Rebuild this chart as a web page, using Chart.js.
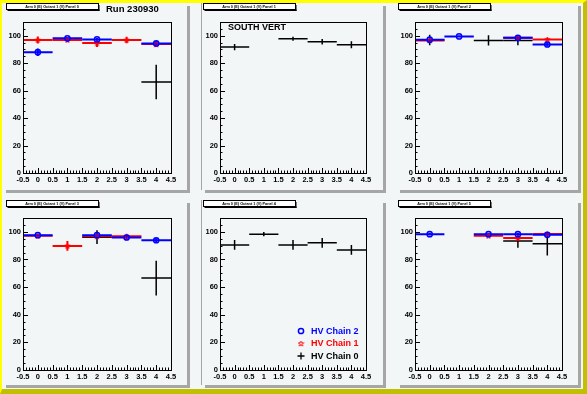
<!DOCTYPE html>
<html>
<head>
<meta charset="utf-8">
<script src="https://cdn.jsdelivr.net/npm/chart.js@4.4.1/dist/chart.umd.min.js"></script>
<style>
  body { margin: 0; }
  #frame {
    position: absolute; left: 0; top: 0; width: 587px; height: 394px; box-sizing: border-box;
    background: #f2f6f6;
    border-left: 2px solid #ffff00; border-top: 3px solid #ffff00;
    border-right: 4px solid #c0c000; border-bottom: 5px solid #c0c000;
  }
  .pad { position: absolute; background: #f2f6f6; box-shadow: 3px 3px 0 #a6a6a6; }
  .pad.mid { box-shadow: 3px 3px 0 #a6a6a6, -1px 0 0 #a6a6a6; }
  .pad canvas { display: block; }
</style>
</head>
<body>
<div id="frame"></div>
<div id="pads"></div>
<script>
// values, one row per panel, one entry per bin
const bins = [0, 1, 2, 3, 4];
const xTicks = [-0.5, 0, 0.5, 1, 1.5, 2, 2.5, 3, 3.5, 4, 4.5];
const yTicks = [0, 20, 40, 60, 80, 100];
const panelTitles = [
  "Arm 0 (E) Octant 1 (V) Panel 0", "Arm 0 (E) Octant 1 (V) Panel 1", "Arm 0 (E) Octant 1 (V) Panel 2",
  "Arm 0 (E) Octant 1 (V) Panel 3", "Arm 0 (E) Octant 1 (V) Panel 4", "Arm 0 (E) Octant 1 (V) Panel 5"
];
const seriesNames = ["HV Chain 2", "HV Chain 1", "HV Chain 0"];

const chain2Values = [
  [88.0, 98.1, 97.3, null, 94.4],
  [null, null, null, null, null],
  [97.1, 99.5, null, 98.5, 93.6],
  [97.6, null, 97.6, 95.9, 93.9],
  [null, null, null, null, null],
  [98.3, null, 98.3, 98.3, 97.8]
];
const chain2Errors = [
  [2.7, 1.0, 1.0, null, 1.5],
  [null, null, null, null, null],
  [1.0, 0.8, null, 1.0, 1.5],
  [1.0, null, 1.0, 1.5, 1.5],
  [null, null, null, null, null],
  [1.0, null, 1.0, 1.0, 1.0]
];
const chain1Values = [
  [96.9, 96.9, 94.7, 96.9, 93.9],
  [null, null, null, null, null],
  [96.6, null, null, 98.5, 97.3],
  [97.1, 89.8, 96.8, 96.8, null],
  [null, null, null, null, null],
  [null, null, 97.1, 95.6, 98.5]
];
const chain1Errors = [
  [2.5, 1.5, 3.0, 2.3, 2.0],
  [null, null, null, null, null],
  [1.0, null, null, 1.0, 1.0],
  [1.0, 3.5, 1.0, 1.5, null],
  [null, null, null, null, null],
  [null, null, 1.0, 2.0, 1.0]
];
const chain0Values = [
  [null, null, null, null, 66.3],
  [91.7, null, 97.8, 95.6, 93.4],
  [96.9, null, 96.6, 96.6, null],
  [null, null, 96.1, null, 66.5],
  [90.5, 98.3, 90.5, 92.0, 86.9],
  [null, null, null, 93.4, 91.3]
];
const chain0Errors = [
  [null, null, null, null, 12.6],
  [2.3, null, 1.5, 2.0, 2.5],
  [3.8, null, 3.8, 3.6, null],
  [null, null, 5.0, null, 12.6],
  [3.5, 1.5, 3.5, 3.5, 3.5],
  [null, null, null, 4.9, 8.5]
];

// pad geometry (page pixels)
const padLeft = [3, 202, 397];
const padWidth = [184, 181, 181];
const padTop = [3, 200];
const padHeight = [187, 185];
const frameX = [[23, 171], [220, 366], [415, 562]];
const frameY = [[22, 173], [218, 370]];
const titleBoxX = [6, 203, 398];

const FONT = "'Liberation Sans', Arial, sans-serif";

function makeStar(color) {
  const c = document.createElement('canvas');
  c.width = 7; c.height = 7;
  const g = c.getContext('2d');
  g.strokeStyle = color;
  g.lineWidth = 1;
  g.beginPath();
  for (let i = 0; i < 10; i++) {
    const r = i % 2 ? 1.2 : 2.8;
    const a = -Math.PI / 2 + i * Math.PI / 5;
    const px = 3.5 + r * Math.cos(a), py = 3.8 + r * Math.sin(a);
    if (i) g.lineTo(px, py); else g.moveTo(px, py);
  }
  g.closePath();
  g.stroke();
  return c;
}
const redStar = makeStar('#ff0000');

function points(values, errors) {
  const out = [];
  bins.forEach((b, i) => {
    if (values[i] !== null) out.push({ x: b, y: values[i], err: errors[i] });
  });
  return out;
}

function drawMarker(ctx, kind, x, y) {
  ctx.save();
  if (kind === 0) {
    ctx.strokeStyle = '#0000ff'; ctx.lineWidth = 1.5;
    ctx.beginPath(); ctx.arc(x, y, 2.6, 0, Math.PI * 2); ctx.stroke();
  } else if (kind === 1) {
    ctx.drawImage(redStar, x - 3.5, y - 3.5);
  } else {
    ctx.strokeStyle = '#000'; ctx.lineWidth = 1.3;
    ctx.beginPath();
    ctx.moveTo(x - 3.5, y); ctx.lineTo(x + 3.5, y);
    ctx.moveTo(x, y - 3.5); ctx.lineTo(x, y + 3.5);
    ctx.stroke();
  }
  ctx.restore();
}

const rootPad = {
  id: 'rootPad',
  beforeDatasetsDraw(chart) {
    const { ctx, scales: { x, y } } = chart;
    const sets = chart.data.datasets.slice().reverse();
    sets.forEach(ds => {
      ctx.save();
      ctx.strokeStyle = ds.borderColor;
      ctx.lineWidth = ds.barWidth;
      ds.data.forEach(p => {
        const px = x.getPixelForValue(p.x), py = y.getPixelForValue(p.y);
        ctx.beginPath();
        ctx.moveTo(x.getPixelForValue(p.x - 0.5), py);
        ctx.lineTo(x.getPixelForValue(p.x + 0.5), py);
        ctx.moveTo(px, y.getPixelForValue(p.y - p.err));
        ctx.lineTo(px, y.getPixelForValue(p.y + p.err));
        ctx.stroke();
      });
      ctx.restore();
    });
  },
  afterDraw(chart, args, opts) {
    const { ctx, chartArea: a, scales: { x, y } } = chart;
    ctx.save();
    ctx.strokeStyle = '#000';
    ctx.lineWidth = 1;
    ctx.strokeRect(Math.round(a.left) + 0.5, Math.round(a.top) + 0.5,
      Math.round(a.right - a.left), Math.round(a.bottom - a.top));
    ctx.beginPath();
    for (let v = 0; v <= 110; v += 5) {
      const py = Math.round(y.getPixelForValue(v)) + 0.5;
      const len = v % 20 === 0 ? 5 : 2.5;
      ctx.moveTo(a.left, py); ctx.lineTo(a.left + len, py);
    }
    for (let i = -5; i <= 45; i++) {
      const px = Math.round(x.getPixelForValue(i / 10)) + 0.5;
      const len = i % 5 === 0 ? 5 : 2.5;
      ctx.moveTo(px, a.bottom); ctx.lineTo(px, a.bottom - len);
    }
    ctx.stroke();

    // title box
    const bx = opts.boxX, by = 0.5, bw = 92, bh = 6;
    ctx.fillStyle = '#fff';
    ctx.fillRect(bx, by, bw, bh);
    ctx.strokeRect(bx + 0.5, by, bw, bh);
    ctx.fillStyle = '#000';
    ctx.fillRect(bx + bw, by + 1.5, 1.5, bh);
    ctx.fillRect(bx + 1.5, by + bh, bw, 1.5);
    ctx.font = 'bold 3.8px ' + FONT;
    ctx.textAlign = 'center';
    ctx.textBaseline = 'middle';
    ctx.fillText(opts.title, bx + bw / 2, by + bh / 2 + 0.3);

    if (opts.run) {
      ctx.font = 'bold 9.5px ' + FONT;
      ctx.textAlign = 'left';
      ctx.fillText(opts.run, 103, 6);
    }
    if (opts.note) {
      ctx.font = 'bold 9px ' + FONT;
      ctx.textAlign = 'left';
      ctx.fillText(opts.note, a.left + 8, a.top + 6);
    }
    if (opts.key) {
      const colors = ['#0000ff', '#ff0000', '#000000'];
      ctx.font = 'bold 9px ' + FONT;
      ctx.textAlign = 'left';
      seriesNames.forEach((name, i) => {
        const ry = a.bottom - 39 + i * 12.5;
        drawMarker(ctx, i, a.right - 65, ry);
        ctx.fillStyle = colors[i];
        ctx.fillText(name, a.right - 55, ry + 0.5);
      });
    }
    ctx.restore();
  }
};

const tickFont = { family: FONT, size: 7.5, weight: 'bold' };

for (let p = 0; p < 6; p++) {
  const row = Math.floor(p / 3), col = p % 3;
  const div = document.createElement('div');
  div.className = col === 1 ? 'pad mid' : 'pad';
  div.style.left = padLeft[col] + 'px';
  div.style.top = padTop[row] + 'px';
  div.style.width = padWidth[col] + 'px';
  div.style.height = padHeight[row] + 'px';
  const canvas = document.createElement('canvas');
  canvas.width = padWidth[col];
  canvas.height = padHeight[row];
  div.appendChild(canvas);
  document.getElementById('pads').appendChild(div);

  const leftRel = frameX[col][0] - padLeft[col];
  const rightRel = padLeft[col] + padWidth[col] - frameX[col][1];
  const topRel = frameY[row][0] - padTop[row];
  const bottomRel = padTop[row] + padHeight[row] - frameY[row][1];

  new Chart(canvas, {
    type: 'scatter',
    data: {
      datasets: [{
        label: seriesNames[0],
        data: points(chain2Values[p], chain2Errors[p]),
        borderColor: '#0000ff',
        backgroundColor: 'rgba(0,0,0,0)',
        pointStyle: 'circle',
        pointRadius: 2.6,
        pointBorderWidth: 1.5,
        barWidth: 2
      }, {
        label: seriesNames[1],
        data: points(chain1Values[p], chain1Errors[p]),
        borderColor: '#ff0000',
        backgroundColor: 'rgba(0,0,0,0)',
        pointStyle: redStar,
        pointRadius: 3,
        barWidth: 2
      }, {
        label: seriesNames[2],
        data: points(chain0Values[p], chain0Errors[p]),
        borderColor: '#000000',
        pointRadius: 0,
        barWidth: 1.5
      }]
    },
    options: {
      responsive: false,
      animation: false,
      devicePixelRatio: 1,
      events: [],
      layout: { padding: { left: 0, top: topRel, right: rightRel, bottom: 0 } },
      plugins: {
        legend: { display: false },
        tooltip: { enabled: false },
        rootPad: {
          title: panelTitles[p],
          boxX: titleBoxX[col] - padLeft[col],
          run: p === 0 ? 'Run 230930' : null,
          note: p === 1 ? 'SOUTH VERT' : null,
          key: p === 4
        }
      },
      scales: {
        x: {
          type: 'linear', min: -0.5, max: 4.5,
          afterBuildTicks: s => { s.ticks = xTicks.map(v => ({ value: v })); },
          afterFit: s => { s.height = bottomRel; },
          grid: { display: false, drawTicks: false },
          border: { display: false },
          ticks: { padding: 2, color: '#000', font: tickFont, autoSkip: false, maxRotation: 0,
            callback: v => String(v) }
        },
        y: {
          type: 'linear', min: 0, max: 110,
          afterBuildTicks: s => { s.ticks = yTicks.map(v => ({ value: v })); },
          afterFit: s => { s.width = leftRel; },
          grid: { display: false, drawTicks: false },
          border: { display: false },
          ticks: { padding: 2, color: '#000', font: tickFont, callback: v => String(v) }
        }
      }
    },
    plugins: [rootPad]
  });
}
</script>
</body>
</html>
